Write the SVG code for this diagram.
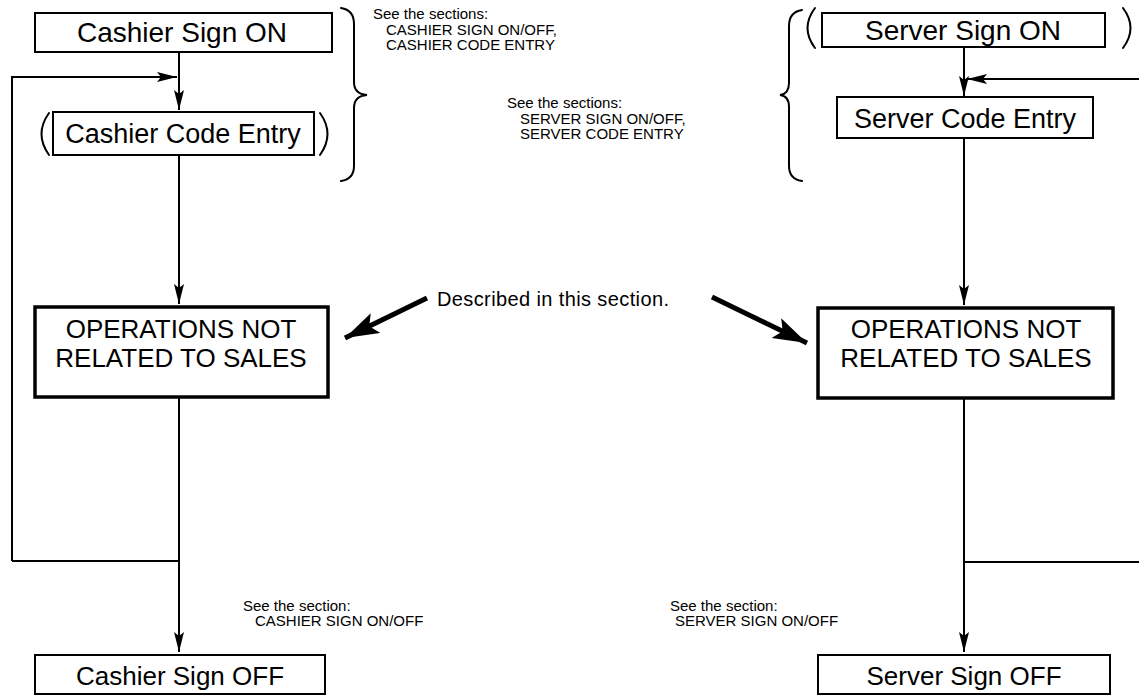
<svg xmlns="http://www.w3.org/2000/svg" width="1139" height="696" viewBox="0 0 1139 696">
<style>
.box{fill:#fff;stroke:#000;stroke-width:2}
.ops{fill:#fff;stroke:#000;stroke-width:3.5}
.lbl{font-family:"Liberation Sans",Arial,sans-serif;font-size:26px;fill:#000;text-anchor:middle}
.lg{font-size:28px}
.md{font-size:27px}
.note{font-family:"Liberation Sans",Arial,sans-serif;font-size:15px;fill:#000}
.desc{font-size:20px}
.line{fill:none;stroke:#000;stroke-width:2}
.brk{fill:none;stroke:#000;stroke-width:2;stroke-linecap:round}
.big{fill:none;stroke:#000;stroke-width:5}
</style>
<defs>
<marker id="ah" markerUnits="userSpaceOnUse" markerWidth="22" markerHeight="12" refX="20" refY="5" orient="auto">
<path d="M0,0 L20,5 L0,10 L4,5 z" fill="#000"/>
</marker>
<marker id="bh" markerUnits="userSpaceOnUse" markerWidth="36" markerHeight="24" refX="34" refY="11" orient="auto">
<path d="M0,0 L34,11 L0,22 L7,11 z" fill="#000"/>
</marker>
</defs>
<rect width="1139" height="696" fill="#fff"/>

<g id="connectors">
<path class="line" d="M179,52 V110" marker-end="url(#ah)"/>
<path class="line" d="M12,561 V77 H177" marker-end="url(#ah)"/>
<path class="line" d="M179,155 V304" marker-end="url(#ah)"/>
<path class="line" d="M179,397 V652" marker-end="url(#ah)"/>
<path class="line" d="M12,561 H179"/>
<path class="line" d="M964,47 V96" marker-end="url(#ah)"/>
<path class="line" d="M1139,79 H967" marker-end="url(#ah)"/>
<path class="line" d="M964,138 V305" marker-end="url(#ah)"/>
<path class="line" d="M964,398 V652" marker-end="url(#ah)"/>
<path class="line" d="M964,562 H1139"/>
<path class="big" d="M427,298 L345,338" marker-end="url(#bh)"/>
<path class="big" d="M712,297 L807,343" marker-end="url(#bh)"/>
</g>

<g id="cashier-sign-on">
<rect class="box" x="35" y="13" width="297" height="39"/>
<text class="lbl lg" x="182" y="42">Cashier Sign ON</text>
</g>
<g id="cashier-code-entry">
<rect class="box" x="53" y="112" width="261" height="43"/>
<text class="lbl md" x="183" y="143">Cashier Code Entry</text>
<path class="brk" d="M49,113 Q34,134 49,155"/>
<path class="brk" d="M320,113 Q335,134 320,155"/>
</g>
<g id="cashier-note">
<path class="brk" d="M341,8 Q354,10 354,24 V82 Q354,94 367,95 Q354,96 354,108 V166 Q354,179 341,181"/>
<text class="note" x="373" y="19">See the sections:</text>
<text class="note" x="386" y="34.5">CASHIER SIGN ON/OFF,</text>
<text class="note" x="386" y="50">CASHIER CODE ENTRY</text>
</g>
<g id="ops-left">
<rect class="ops" x="35" y="307" width="293" height="90"/>
<text class="lbl" x="181" y="338">OPERATIONS NOT</text>
<text class="lbl" x="181" y="367">RELATED TO SALES</text>
</g>
<g id="described">
<text class="note desc" x="437" y="306" textLength="232" lengthAdjust="spacing">Described in this section.</text>
</g>
<g id="cashier-off-note">
<text class="note" x="243" y="611">See the section:</text>
<text class="note" x="255" y="626">CASHIER SIGN ON/OFF</text>
</g>
<g id="cashier-sign-off">
<rect class="box" x="35" y="655" width="290" height="39"/>
<text class="lbl" x="180" y="685">Cashier Sign OFF</text>
</g>

<g id="server-sign-on">
<rect class="box" x="822" y="13" width="283" height="34"/>
<text class="lbl lg" x="963" y="40">Server Sign ON</text>
<path class="brk" d="M815,8 Q800,28 815,48"/>
<path class="brk" d="M1123,8 Q1138,28 1123,48"/>
</g>
<g id="server-note">
<path class="brk" d="M802,10 Q789,12 789,26 V83 Q789,94 780,95 Q789,96 789,107 V166 Q789,179 802,181"/>
<text class="note" x="507" y="108">See the sections:</text>
<text class="note" x="520" y="123.5">SERVER SIGN ON/OFF,</text>
<text class="note" x="520" y="139">SERVER CODE ENTRY</text>
</g>
<g id="server-code-entry">
<rect class="box" x="837" y="97" width="256" height="41"/>
<text class="lbl md" x="965" y="128">Server Code Entry</text>
</g>
<g id="ops-right">
<rect class="ops" x="818" y="308" width="295" height="90"/>
<text class="lbl" x="966" y="338">OPERATIONS NOT</text>
<text class="lbl" x="966" y="367">RELATED TO SALES</text>
</g>
<g id="server-off-note">
<text class="note" x="670" y="611">See the section:</text>
<text class="note" x="675" y="626">SERVER SIGN ON/OFF</text>
</g>
<g id="server-sign-off">
<rect class="box" x="818" y="655" width="292" height="39"/>
<text class="lbl" x="964" y="685">Server Sign OFF</text>
</g>
</svg>
